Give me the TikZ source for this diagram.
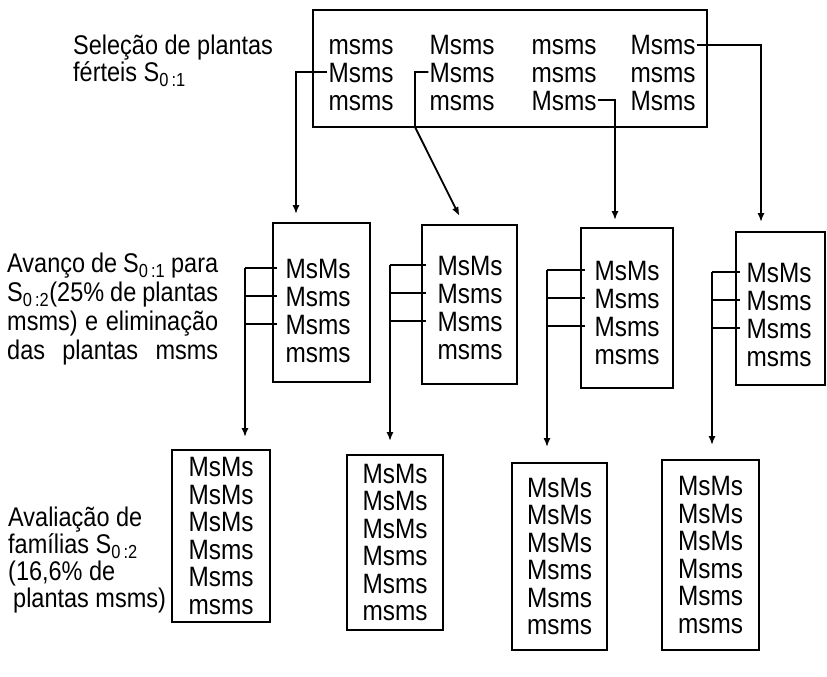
\documentclass[tikz,border=0pt]{standalone}
\usepackage{fontspec}
\setmainfont{Liberation Sans}[FakeStretch=0.87]
\usetikzlibrary{arrows.meta}

\begin{document}
\begin{tikzpicture}[x=1pt, y=-1pt,
    gen/.style={inner sep=1pt, text height=20pt, text depth=0pt, font=\fontsize{28}{28}\selectfont},
    famb/.style={draw, line width=1.8pt, inner sep=0pt},
    fam6/.style={famb, align=center, font=\fontsize{28}{27.5}\selectfont},
    lnk/.style={line width=1.8pt},
    arr/.style={line width=1.8pt, -{Latex[length=9pt,width=7pt]}},
    lbl/.style={inner sep=0pt, anchor=north west, align=left, font=\fontsize{27}{27}\selectfont}]
    \useasboundingbox (0,0) rectangle (827,677);

    % Labels on the left
    \node[lbl] (lsel) at (73,35) {Seleção de plantas\\férteis S\textsubscript{0\,:1}};
    \node[lbl, font=\fontsize{27}{29}\selectfont] (lava) at (7,253) {\makebox[211pt][s]{Avanço de S\textsubscript{0\,:1} para}\\
        \makebox[211pt][s]{S\textsubscript{0\,:2}(25\% de plantas}\\
        \makebox[211pt][s]{msms) e eliminação}\\
        \makebox[211pt][s]{das plantas msms}};
    \node[lbl] (laval) at (8,507) {Avaliação de\\famílias S\textsubscript{0\,:2}\\(16,6\% de\\\hspace*{5pt}plantas msms)};

    % Top box, plants S0:1
    \node[famb, minimum width=394pt, minimum height=117pt] (top) at (510,68.5) {};
    \node[gen] (t11) at (361,45) {msms};
    \node[gen] (t12) at (462,45) {Msms};
    \node[gen] (t13) at (564,45) {msms};
    \node[gen] (t14) at (663,45) {Msms};
    \node[gen] (t21) at (361,72) {Msms};
    \node[gen] (t22) at (462,72) {Msms};
    \node[gen] (t23) at (564,72) {msms};
    \node[gen] (t24) at (663,72) {msms};
    \node[gen] (t31) at (361,100) {msms};
    \node[gen] (t32) at (462,100) {msms};
    \node[gen] (t33) at (564,100) {Msms};
    \node[gen] (t34) at (663,100) {Msms};

    % Middle boxes, S0:2
    \node[famb, minimum width=97pt, minimum height=159pt] (m1) at (321.5,302.5) {};
    \node[gen] (m1a) at (318,268) {MsMs};
    \node[gen] (m1b) at (318,296) {Msms};
    \node[gen] (m1c) at (318,324) {Msms};
    \node[gen] (m1d) at (318,352) {msms};
    \node[famb, minimum width=95pt, minimum height=159pt] (m2) at (469.5,304.5) {};
    \node[gen] (m2a) at (470,265) {MsMs};
    \node[gen] (m2b) at (470,293) {Msms};
    \node[gen] (m2c) at (470,321) {Msms};
    \node[gen] (m2d) at (470,349) {msms};
    \node[famb, minimum width=92pt, minimum height=160pt] (m3) at (627,308) {};
    \node[gen] (m3a) at (627,270) {MsMs};
    \node[gen] (m3b) at (627,298) {Msms};
    \node[gen] (m3c) at (627,326) {Msms};
    \node[gen] (m3d) at (627,354) {msms};
    \node[famb, minimum width=89pt, minimum height=153pt] (m4) at (780.5,308.5) {};
    \node[gen] (m4a) at (779,272) {MsMs};
    \node[gen] (m4b) at (779,300) {Msms};
    \node[gen] (m4c) at (779,328) {Msms};
    \node[gen] (m4d) at (779,356) {msms};

    % Bottom boxes, families S0:2
    \node[fam6, minimum width=98pt, minimum height=172pt] (f1) at (221,536) {MsMs\\MsMs\\MsMs\\Msms\\Msms\\msms};
    \node[fam6, minimum width=96pt, minimum height=175pt] (f2) at (395,542.5) {MsMs\\MsMs\\MsMs\\Msms\\Msms\\msms};
    \node[fam6, minimum width=95pt, minimum height=187pt] (f3) at (559.5,556.5) {MsMs\\MsMs\\MsMs\\Msms\\Msms\\msms};
    \node[fam6, minimum width=97pt, minimum height=190pt] (f4) at (710.5,555) {MsMs\\MsMs\\MsMs\\Msms\\Msms\\msms};

    % Arrows from the top box
    \coordinate (c2) at (415,127);
    \draw[arr, shorten >=8pt] (t21.west) -| ([xshift=-25.5pt]m1.north);
    \draw[arr, shorten >=9pt] (t22.west) -| (c2) -- ([xshift=-6pt]m2.north);
    \draw[arr, shorten >=7pt] (t33.east) -| ([xshift=-12pt]m3.north);
    \draw[arr, shorten >=9pt] (t14.east) -| ([xshift=-19.5pt]m4.north);

    % Brackets and arrows down to the families
    \coordinate (k1) at (245,268);
    \coordinate (k2) at (390,265);
    \coordinate (k3) at (547,270);
    \coordinate (k4) at (712,272);
    \draw[lnk] (k1) -- ([xshift=5pt]m1.west |- m1a);
    \draw[lnk] (k1 |- m1b) -- ([xshift=5pt]m1.west |- m1b);
    \draw[lnk] (k1 |- m1c) -- ([xshift=5pt]m1.west |- m1c);
    \draw[arr, shorten >=12pt] (k1) -- (k1 |- f1.north);
    \draw[lnk] (k2) -- ([xshift=5pt]m2.west |- m2a);
    \draw[lnk] (k2 |- m2b) -- ([xshift=5pt]m2.west |- m2b);
    \draw[lnk] (k2 |- m2c) -- ([xshift=5pt]m2.west |- m2c);
    \draw[arr, shorten >=13pt] (k2) -- (k2 |- f2.north);
    \draw[lnk] (k3) -- ([xshift=5pt]m3.west |- m3a);
    \draw[lnk] (k3 |- m3b) -- ([xshift=5pt]m3.west |- m3b);
    \draw[lnk] (k3 |- m3c) -- ([xshift=5pt]m3.west |- m3c);
    \draw[arr, shorten >=15pt] (k3) -- (k3 |- f3.north);
    \draw[lnk] (k4) -- ([xshift=5pt]m4.west |- m4a);
    \draw[lnk] (k4 |- m4b) -- ([xshift=5pt]m4.west |- m4b);
    \draw[lnk] (k4 |- m4c) -- ([xshift=5pt]m4.west |- m4c);
    \draw[arr, shorten >=14pt] (k4) -- (k4 |- f4.north);
\end{tikzpicture}
\end{document}
